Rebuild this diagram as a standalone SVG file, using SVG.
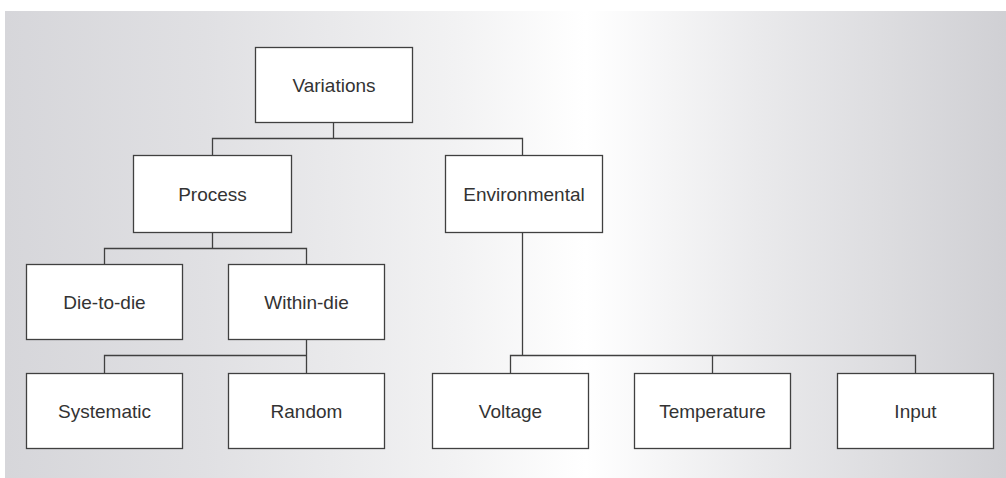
<svg xmlns="http://www.w3.org/2000/svg" width="1006" height="478" viewBox="0 0 1006 478">
<defs>
<linearGradient id="bg" x1="0" y1="0" x2="1" y2="0">
<stop offset="0" stop-color="#d6d6da"/>
<stop offset="0.2" stop-color="#e0e0e3"/>
<stop offset="0.45" stop-color="#f2f2f3"/>
<stop offset="0.58" stop-color="#ffffff"/>
<stop offset="0.75" stop-color="#eaeaec"/>
<stop offset="1" stop-color="#d0d0d4"/>
</linearGradient>
<style>
.box{fill:#ffffff;stroke:#404040;stroke-width:1.3}
.lbl{font-family:"Liberation Sans",Arial,sans-serif;font-size:19px;fill:#333333;text-anchor:middle;dominant-baseline:central}
.con{fill:none;stroke:#404040;stroke-width:1.3}
</style>
</defs>
<rect x="0" y="0" width="1006" height="478" fill="#ffffff"/>
<rect x="5" y="11" width="1001" height="467" fill="url(#bg)"/>
<g id="connectors">
<path class="con" d="M333.5,122 V138.5 H212.5 V155 M333.5,138.5 H522.5 V155"/>
<path class="con" d="M212.5,232 V248.5 H104.5 V264 M212.5,248.5 H306.5 V264"/>
<path class="con" d="M306.5,339 V355.5 H104.5 V373 M306.5,355.5 V373"/>
<path class="con" d="M522.5,232 V355.5 H510.5 V373 M522.5,355.5 H915.5 V373 M712.5,355.5 V373"/>
</g>
<g id="variations"><rect class="box" x="255.5" y="47.5" width="157" height="75"/><text class="lbl" x="334" y="85">Variations</text></g>
<g id="process"><rect class="box" x="133.5" y="155.5" width="158" height="77"/><text class="lbl" x="212.5" y="194">Process</text></g>
<g id="environmental"><rect class="box" x="445.5" y="155.5" width="157" height="77"/><text class="lbl" x="524" y="194">Environmental</text></g>
<g id="die-to-die"><rect class="box" x="26.5" y="264.5" width="156" height="75"/><text class="lbl" x="104.5" y="302">Die-to-die</text></g>
<g id="within-die"><rect class="box" x="228.5" y="264.5" width="156" height="75"/><text class="lbl" x="306.5" y="302">Within-die</text></g>
<g id="systematic"><rect class="box" x="26.5" y="373.5" width="156" height="75"/><text class="lbl" x="104.5" y="411">Systematic</text></g>
<g id="random"><rect class="box" x="228.5" y="373.5" width="156" height="75"/><text class="lbl" x="306.5" y="411">Random</text></g>
<g id="voltage"><rect class="box" x="432.5" y="373.5" width="156" height="75"/><text class="lbl" x="510.5" y="411">Voltage</text></g>
<g id="temperature"><rect class="box" x="634.5" y="373.5" width="156" height="75"/><text class="lbl" x="712.5" y="411">Temperature</text></g>
<g id="input"><rect class="box" x="837.5" y="373.5" width="156" height="75"/><text class="lbl" x="915.5" y="411">Input</text></g>
</svg>
